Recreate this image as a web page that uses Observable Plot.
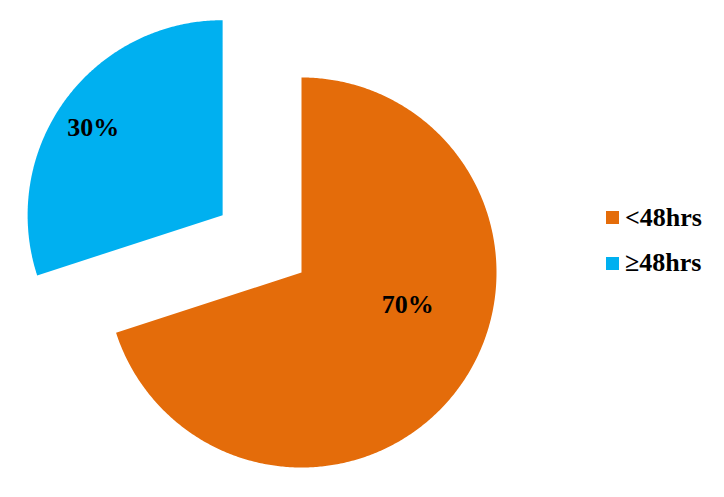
<!DOCTYPE html>
<html>
<head>
<meta charset="utf-8">
<script src="https://cdn.jsdelivr.net/npm/d3@7"></script>
<script src="https://cdn.jsdelivr.net/npm/@observablehq/plot@0.6"></script>
<style>
  html, body { margin: 0; padding: 0; background: #fff; }
  #wrap { position: relative; width: 724px; height: 497px; }
  #wrap svg { position: absolute; left: 0; top: 0; }
  .legend-item { position: absolute; left: 606px; height: 26px; display: flex; align-items: center;
    font-family: "Liberation Serif", "Times New Roman", serif; font-weight: bold; font-size: 26px; line-height: 26px; color: #000; }
  .legend-item .sw { width: 13px; height: 13px; margin-right: 6px; }
</style>
</head>
<body>
<div id="wrap"></div>
<script>
// ---- data ----
const categories = ["<48hrs", "≥48hrs"];
const values = [70, 30];
const labels = ["70%", "30%"];

// ---- styling / layout ----
const colors = ["#E46C0A", "#00B0F0"];
const W = 724, H = 497;
const cx = 301, cy = 272, R = 195;          // pixel centre & radius of the pie
const explode = [0, 0.5];                   // explosion as fraction of radius
const labelPolar = [{angle: 107, r: 0.57}, {angle: 304, r: 0.8}];
const legendCenters = [217.5, 263];

const pie = d3.pie().sort(null).startAngle(0).endAngle(2 * Math.PI)(values);

const polys = [];
pie.forEach((p, i) => {
  const mid = (p.startAngle + p.endAngle) / 2;
  const ox = explode[i] * Math.sin(mid), oy = explode[i] * Math.cos(mid);
  const key = categories[i];
  polys.push({key, u: ox, v: oy});
  const n = Math.max(2, Math.ceil((p.endAngle - p.startAngle) / (Math.PI / 360)));
  for (let k = 0; k <= n; k++) {
    const a = p.startAngle + (p.endAngle - p.startAngle) * k / n;
    polys.push({key, u: ox + Math.sin(a), v: oy + Math.cos(a)});
  }
});

const labelData = pie.map((p, i) => {
  const mid = (p.startAngle + p.endAngle) / 2;
  const ox = explode[i] * Math.sin(mid), oy = explode[i] * Math.cos(mid);
  const a = labelPolar[i].angle * Math.PI / 180;
  return {text: labels[i], u: ox + labelPolar[i].r * Math.sin(a), v: oy + labelPolar[i].r * Math.cos(a)};
});

const chart = Plot.plot({
  width: W, height: H, margin: 0,
  style: {background: "transparent", overflow: "visible"},
  x: {domain: [-cx / R, (W - cx) / R], axis: null},
  y: {domain: [(cy - H) / R, cy / R], axis: null},
  color: {domain: categories, range: colors},
  marks: [
    Plot.line(polys, {x: "u", y: "v", z: "key", fill: "key", stroke: "none", curve: "linear-closed"}),
    Plot.text(labelData, {x: "u", y: "v", text: "text", fill: "#000", fontSize: 26, fontWeight: "bold",
      fontFamily: "Liberation Serif, Times New Roman, serif", textAnchor: "middle"})
  ]
});

const wrap = document.getElementById("wrap");
wrap.appendChild(chart);

categories.forEach((c, i) => {
  const d = document.createElement("div");
  d.className = "legend-item";
  d.style.top = (legendCenters[i] - 13) + "px";
  const sw = document.createElement("span");
  sw.className = "sw";
  sw.style.background = colors[i];
  const t = document.createElement("span");
  t.textContent = c;
  d.appendChild(sw); d.appendChild(t);
  wrap.appendChild(d);
});
</script>
</body>
</html>
